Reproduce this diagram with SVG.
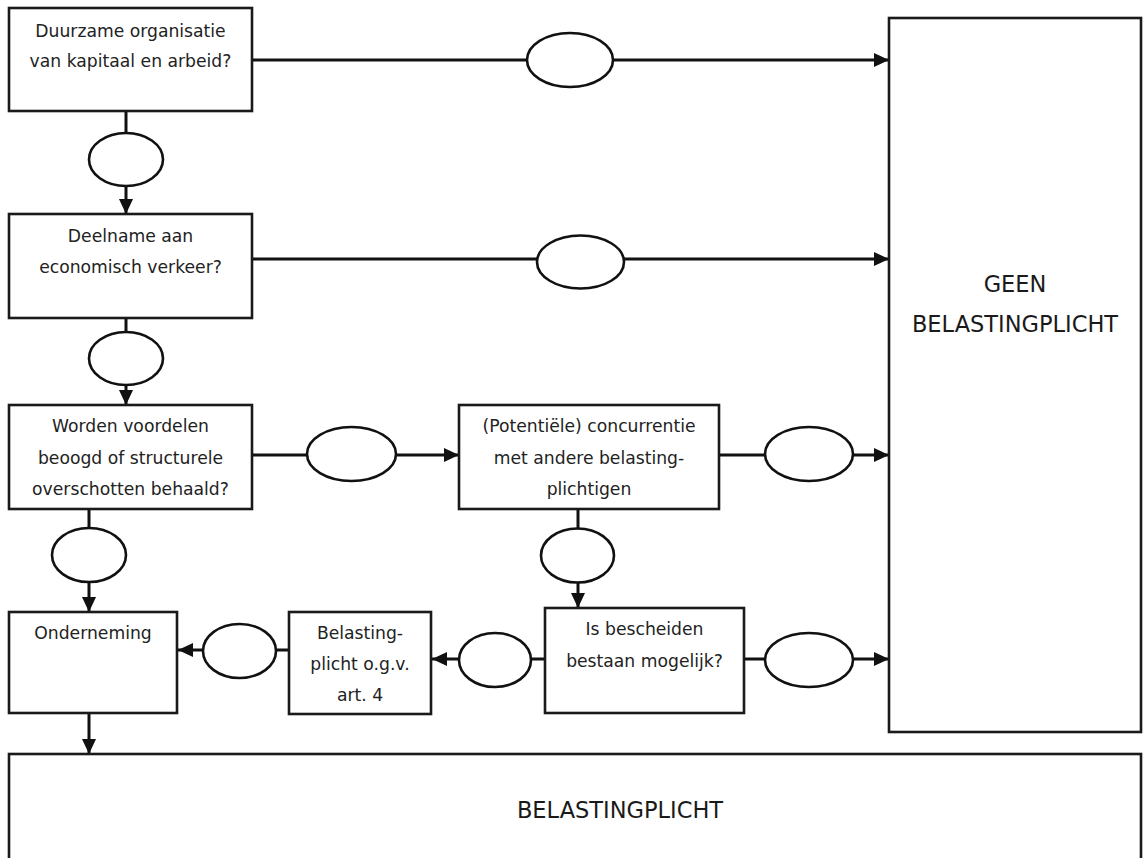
<svg xmlns="http://www.w3.org/2000/svg" width="1143" height="858" viewBox="0 0 1143 858">
  <defs>
    <marker id="arrow" markerUnits="userSpaceOnUse" markerWidth="16" markerHeight="14" refX="15" refY="7" orient="auto">
      <path d="M0,0 L15,7 L0,14 Z" fill="#111"/>
    </marker>
    <style>
      .box { fill: #fff; stroke: #1a1a1a; stroke-width: 2.6; }
      .oval { fill: #fff; stroke: #111; stroke-width: 2.6; }
      .line { fill: none; stroke: #111; stroke-width: 3; }
      .arr { marker-end: url(#arrow); }
      .lbl { font-family: "DejaVu Sans", Verdana, sans-serif; font-size: 17.2px; fill: #222; text-anchor: middle; }
      .big { font-family: "DejaVu Sans", Verdana, sans-serif; font-size: 22.5px; fill: #1a1a1a; text-anchor: middle; }
    </style>
  </defs>
  <rect width="1143" height="858" fill="#fff"/>

  <!-- connectors: line first, decision oval on top -->
  <g id="connectors">
    <path class="line arr" d="M252,60 H889"/>
    <ellipse class="oval" cx="570" cy="60" rx="43" ry="27"/>

    <path class="line arr" d="M126,111 V214"/>
    <ellipse class="oval" cx="126" cy="159.5" rx="37" ry="26.5"/>

    <path class="line arr" d="M252,259 H889"/>
    <ellipse class="oval" cx="580.5" cy="262" rx="43.5" ry="26.5"/>

    <path class="line arr" d="M126,318 V405"/>
    <ellipse class="oval" cx="126" cy="358.5" rx="37" ry="26.5"/>

    <path class="line arr" d="M252,455 H459"/>
    <ellipse class="oval" cx="351.5" cy="454" rx="44.5" ry="27"/>

    <path class="line arr" d="M719,455 H889"/>
    <ellipse class="oval" cx="809" cy="454" rx="44" ry="27"/>

    <path class="line arr" d="M89,509 V612"/>
    <ellipse class="oval" cx="89" cy="555" rx="37" ry="27"/>

    <path class="line arr" d="M578,509 V608"/>
    <ellipse class="oval" cx="577.5" cy="555.5" rx="36.5" ry="27"/>

    <path class="line arr" d="M744,659 H889"/>
    <ellipse class="oval" cx="809" cy="660" rx="44" ry="27"/>

    <path class="line arr" d="M545,659 H432"/>
    <ellipse class="oval" cx="495" cy="660" rx="36" ry="27"/>

    <path class="line arr" d="M289,650 H178"/>
    <ellipse class="oval" cx="239.5" cy="651" rx="36.5" ry="27"/>

    <path class="line arr" d="M89,713 V754"/>
  </g>

  <g id="duurzame">
    <rect class="box" x="9" y="8" width="243" height="103"/>
    <text class="lbl" x="130.5" y="37">Duurzame organisatie</text>
    <text class="lbl" x="130.5" y="67">van kapitaal en arbeid?</text>
  </g>

  <g id="deelname">
    <rect class="box" x="9" y="214" width="243" height="104"/>
    <text class="lbl" x="130.5" y="242">Deelname aan</text>
    <text class="lbl" x="130.5" y="273">economisch verkeer?</text>
  </g>

  <g id="voordelen">
    <rect class="box" x="9" y="405" width="243" height="104"/>
    <text class="lbl" x="130.5" y="432">Worden voordelen</text>
    <text class="lbl" x="130.5" y="464">beoogd of structurele</text>
    <text class="lbl" x="130.5" y="495">overschotten behaald?</text>
  </g>

  <g id="concurrentie">
    <rect class="box" x="459" y="405" width="260" height="104"/>
    <text class="lbl" x="589" y="432">(Potentiële) concurrentie</text>
    <text class="lbl" x="589" y="464">met andere belasting-</text>
    <text class="lbl" x="589" y="495">plichtigen</text>
  </g>

  <g id="onderneming">
    <rect class="box" x="9" y="612" width="168" height="101"/>
    <text class="lbl" x="93" y="639">Onderneming</text>
  </g>

  <g id="art4">
    <rect class="box" x="289" y="612" width="142" height="102"/>
    <text class="lbl" x="360" y="639">Belasting-</text>
    <text class="lbl" x="360" y="670">plicht o.g.v.</text>
    <text class="lbl" x="360" y="701">art. 4</text>
  </g>

  <g id="bescheiden">
    <rect class="box" x="545" y="608" width="199" height="105"/>
    <text class="lbl" x="644.5" y="635">Is bescheiden</text>
    <text class="lbl" x="644.5" y="667">bestaan mogelijk?</text>
  </g>

  <g id="geen-belastingplicht">
    <rect class="box" x="889" y="18" width="252" height="714"/>
    <text class="big" x="1015" y="292">GEEN</text>
    <text class="big" x="1015" y="332">BELASTINGPLICHT</text>
  </g>

  <g id="belastingplicht">
    <rect class="box" x="9" y="754" width="1132" height="130"/>
    <text class="big" x="620" y="818">BELASTINGPLICHT</text>
  </g>
</svg>
